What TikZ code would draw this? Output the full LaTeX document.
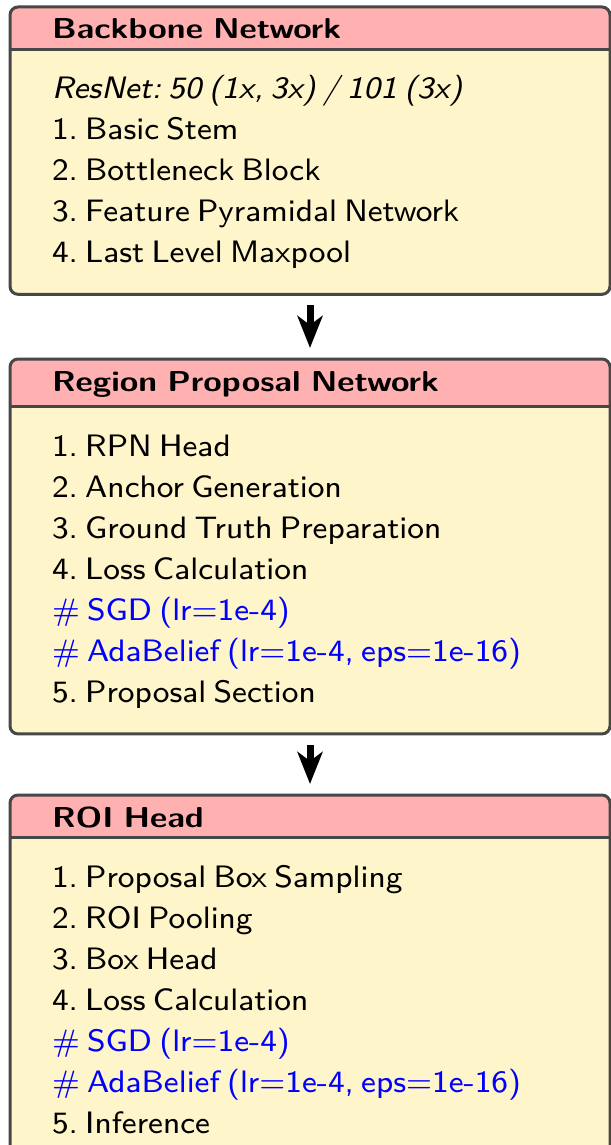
\documentclass[tikz,border=0pt]{standalone}
\usepackage{graphicx}
\usetikzlibrary{arrows.meta,backgrounds}
\definecolor{headfill}{HTML}{FFB1B1}
\definecolor{bodyfill}{HTML}{FFF5CA}
\definecolor{framecol}{HTML}{474747}
\definecolor{optblue}{HTML}{0000FF}
\newcommand{\ls}{\vrule width 0pt height 29pt depth 11pt}
\newcommand{\bl}[1]{\ls\scalebox{3.93}[3.875]{\fontsize{8}{10}\selectfont\frenchspacing\spaceskip=1.85pt\relax #1}}
\newcommand{\optline}[1]{\bl{\color{optblue}\# #1}}
\newcommand{\ttl}[1]{\scalebox{4.2}[3.6]{\fontsize{8}{10}\selectfont\bfseries\frenchspacing\spaceskip=2.4pt\relax #1}}
\newcommand{\panelbox}[3]{%
  \begin{scope}[on background layer]
    \begin{scope}
      \clip[rounded corners=8pt] (#1.north west) rectangle (#3);
      \fill[bodyfill] (#1.north west) rectangle (#3);
      \fill[headfill] (#1.north west) rectangle (#1.south east);
    \end{scope}
  \end{scope}
  \draw[frame] (#1.north west) rectangle (#3);
  \draw[divider] (#1.south west) -- (#1.south east);
}
\tikzset{
  head/.style={anchor=north west, outer sep=0pt, inner xsep=42pt, inner ysep=10pt,
    text width=516pt, align=left, text height=22pt, font=\sffamily},
  body/.style={anchor=north west, outer sep=0pt, inner xsep=42pt, inner ysep=20.5pt,
    text width=516pt, align=left, font=\sffamily},
  frame/.style={draw=framecol, line width=3pt, rounded corners=8pt},
  divider/.style={draw=framecol, line width=3pt},
  flow/.style={line width=7pt, -{Stealth[length=32pt,width=25pt,inset=9pt]},
    shorten <=11pt, shorten >=11pt}
}
\begin{document}
\begin{tikzpicture}
\useasboundingbox (0pt,0pt) rectangle (610pt,-1145pt);

% Box 1
\node[head] (h1) at (10pt,-7pt) {\ttl{Backbone Network}};
\node[body] (b1) at (h1.south west) {\bl{\itshape ResNet: 50 (1x, 3x) / 101 (3x)}\\
\bl{1. Basic Stem}\\
\bl{2. Bottleneck Block}\\
\bl{3. Feature Pyramidal Network}\\
\bl{4. Last Level Maxpool}};
\coordinate (e1) at (b1.south east);
\panelbox{h1}{b1}{e1}

% Box 2
\node[head] (h2) at (10pt,-359pt) {\ttl{Region Proposal Network}};
\node[body] (b2) at (h2.south west) {\bl{1. RPN Head}\\
\bl{2. Anchor Generation}\\
\bl{3. Ground Truth Preparation}\\
\bl{4. Loss Calculation}\\
\optline{SGD (lr=1e-4)}\\
\optline{AdaBelief (lr=1e-4, eps=1e-16)}\\
\bl{5. Proposal Section}};
\coordinate (e2) at (b2.south east);
\panelbox{h2}{b2}{e2}

% Box 3
\node[head] (h3) at (10pt,-795pt) {\ttl{ROI Head}};
\node[body] (b3) at (h3.south west) {\bl{1. Proposal Box Sampling}\\
\bl{2. ROI Pooling}\\
\bl{3. Box Head}\\
\bl{4. Loss Calculation}\\
\optline{SGD (lr=1e-4)}\\
\optline{AdaBelief (lr=1e-4, eps=1e-16)}\\
\bl{5. Inference}};
\coordinate (e3) at ([yshift=10.5pt]b3.south east);
\panelbox{h3}{b3}{e3}

% Arrows
\draw[flow] (b1.south) -- (h2.north);
\draw[flow] (b2.south) -- (h3.north);
\end{tikzpicture}
\end{document}
